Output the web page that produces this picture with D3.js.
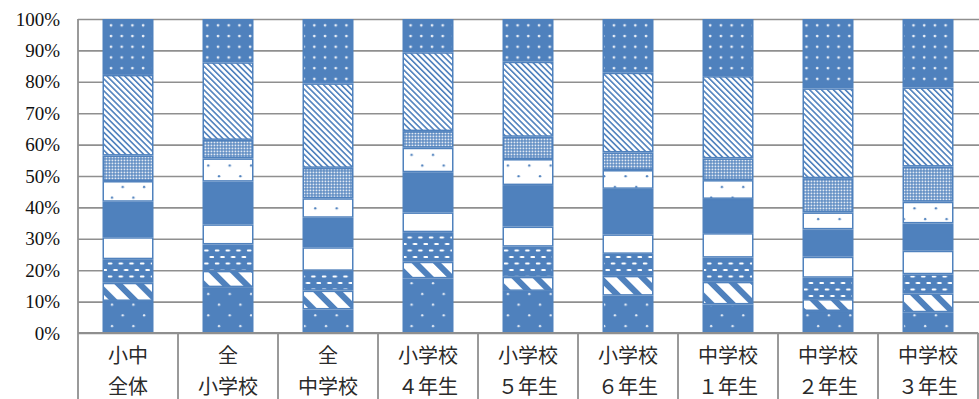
<!DOCTYPE html>
<html>
<head>
<meta charset="utf-8">
<script src="https://cdn.jsdelivr.net/npm/d3@7"></script>
<style>
  html, body { margin: 0; padding: 0; background: #fff; }
  svg { display: block; }
  .ylab text { font-family: "Liberation Serif", "DejaVu Serif", serif; }
</style>
</head>
<body>
<svg id="chart" width="979" height="399"></svg>
<script>
// Categories (two-line labels)
const categories = ["小中全体", "全小学校", "全中学校", "小学校４年生", "小学校５年生", "小学校６年生", "中学校１年生", "中学校２年生", "中学校３年生"];
const categoryLines = [
  ["小中", "全体"], ["全", "小学校"], ["全", "中学校"],
  ["小学校", "４年生"], ["小学校", "５年生"], ["小学校", "６年生"],
  ["中学校", "１年生"], ["中学校", "２年生"], ["中学校", "３年生"]
];
const yTicks = [0, 0.1, 0.2, 0.3, 0.4, 0.5, 0.6, 0.7, 0.8, 0.9, 1.0];

// Stacked shares (%), bottom segment first
const s1 = [10.2, 14.6, 7.5, 17.4, 13.4, 11.9, 9.1, 7.0, 6.6];
const s2 = [5.8, 5.2, 6.0, 5.3, 4.5, 6.3, 7.2, 3.8, 6.0];
const s3 = [7.5, 8.4, 6.3, 9.4, 9.6, 7.0, 7.7, 6.8, 6.1];
const s4 = [7.0, 6.4, 7.5, 6.3, 6.4, 6.2, 7.8, 6.7, 7.5];
const s5 = [11.3, 13.6, 9.4, 12.8, 13.2, 14.5, 10.9, 8.7, 8.7];
const s6 = [6.6, 7.4, 6.2, 7.8, 8.3, 6.0, 6.0, 5.4, 6.9];
const s7 = [8.1, 5.9, 9.7, 5.3, 7.1, 5.6, 6.9, 10.9, 11.2];
const s8 = [25.7, 24.7, 26.9, 25.1, 23.9, 25.4, 26.2, 28.6, 25.2];
const s9 = [17.8, 13.8, 20.5, 10.6, 13.6, 17.1, 18.2, 22.1, 21.8];

(function () {
  const seriesList = [s1, s2, s3, s4, s5, s6, s7, s8, s9];
  const keys = seriesList.map((_, i) => "s" + (i + 1));
  const rows = categories.map((c, j) => {
    const r = { cat: c };
    seriesList.forEach((s, i) => { r[keys[i]] = s[j]; });
    return r;
  });

  const BLUE = "#4F81BD";
  const GRID = "#8f8f8f";

  const svg = d3.select("#chart");
  const plotLeft = 78, plotRight = 978, plotTop = 19, plotBottom = 333;

  const x = d3.scaleBand().domain(categories).range([plotLeft, plotRight])
    .paddingInner(0.49).paddingOuter(0.245);
  const y = d3.scaleLinear().domain([0, 1]).range([plotBottom, plotTop]);

  // ---- fill patterns ----
  const defs = svg.append("defs");
  function pat(id, w, h, transform) {
    const p = defs.append("pattern").attr("id", id)
      .attr("patternUnits", "userSpaceOnUse").attr("width", w).attr("height", h);
    if (transform) p.attr("patternTransform", transform);
    return p;
  }
  // sparse white dots on blue
  let p = pat("dotsSparseBlue", 21.4, 21.4);
  p.append("rect").attr("width", 21.4).attr("height", 21.4).attr("fill", BLUE);
  p.append("circle").attr("cx", 5).attr("cy", 5).attr("r", 1.2).attr("fill", "#e8eef7");
  p.append("circle").attr("cx", 15.7).attr("cy", 15.7).attr("r", 1.2).attr("fill", "#e8eef7");
  // wide downward diagonal
  p = pat("wideDiag", 15, 15, "rotate(-45)");
  p.append("rect").attr("width", 15).attr("height", 15).attr("fill", "#fff");
  p.append("rect").attr("width", 6).attr("height", 15).attr("fill", BLUE);
  // dashed horizontal
  p = pat("dashH", 10.7, 13);
  p.append("rect").attr("width", 10.7).attr("height", 13).attr("fill", BLUE);
  [[0.8, 2.5], [6.15, 9], [-4.55, 9]].forEach(([dx, dy]) => {
    p.append("rect").attr("x", dx).attr("y", dy).attr("width", 4.6).attr("height", 2)
      .attr("rx", 1).attr("fill", "#fff");
  });
  // sparse blue dots on white
  p = pat("dotsSparseWhite", 21.4, 21.4);
  p.append("rect").attr("width", 21.4).attr("height", 21.4).attr("fill", "#fff");
  p.append("circle").attr("cx", 5).attr("cy", 5).attr("r", 1.2).attr("fill", BLUE);
  p.append("circle").attr("cx", 15.7).attr("cy", 15.7).attr("r", 1.2).attr("fill", BLUE);
  // fine check
  p = pat("fineCheck", 3, 3);
  p.append("rect").attr("width", 3).attr("height", 3).attr("fill", BLUE);
  p.append("rect").attr("x", 0.5).attr("y", 0.5).attr("width", 1.9).attr("height", 1.9).attr("fill", "#e4ebf4");
  // light downward diagonal
  p = pat("lightDiag", 4.2, 4.2, "rotate(-45)");
  p.append("rect").attr("width", 4.2).attr("height", 4.2).attr("fill", "#fff");
  p.append("rect").attr("width", 1.6).attr("height", 4.2).attr("fill", BLUE);
  // dense white dots on blue
  p = pat("dotsDense", 10.7, 10.7);
  p.append("rect").attr("width", 10.7).attr("height", 10.7).attr("fill", BLUE);
  p.append("circle").attr("cx", 4).attr("cy", 4).attr("r", 1.4).attr("fill", "#e8eef7");

  const fills = ["url(#dotsSparseBlue)", "url(#wideDiag)", "url(#dashH)", "#fff", BLUE,
    "url(#dotsSparseWhite)", "url(#fineCheck)", "url(#lightDiag)", "url(#dotsDense)"];

  // ---- gridlines ----
  svg.append("g")
    .attr("transform", `translate(${plotLeft},0)`)
    .call(d3.axisLeft(y).tickValues(yTicks).tickSize(-(979 - plotLeft)).tickFormat(""))
    .call(g => g.select(".domain").remove())
    .call(g => g.selectAll(".tick line").attr("stroke", GRID).attr("stroke-width", 1.6));

  // ---- y labels ----
  svg.append("g")
    .attr("class", "ylab")
    .attr("transform", `translate(${plotLeft},0)`)
    .call(d3.axisLeft(y).tickValues(yTicks).tickSize(0).tickPadding(18).tickFormat(d3.format(".0%")))
    .attr("font-family", null)
    .call(g => g.select(".domain").remove())
    .call(g => g.selectAll("text")
      .attr("font-size", 19).attr("fill", "#111"));

  // ---- stacked bars ----
  const stack = d3.stack().keys(keys).offset(d3.stackOffsetExpand);
  const layers = stack(rows);

  svg.append("g").selectAll("g")
    .data(layers)
    .join("g")
    .attr("fill", (d, i) => fills[i])
    .selectAll("rect")
    .data(d => d)
    .join("rect")
    .attr("x", d => x(d.data.cat) + 0.75)
    .attr("width", x.bandwidth() - 1.5)
    .attr("y", d => y(d[1]) + 0.75)
    .attr("height", d => Math.max(0, y(d[0]) - y(d[1]) - 1.5))
    .attr("stroke", BLUE)
    .attr("stroke-width", 1.5);

  // ---- x axis ----
  svg.append("g")
    .attr("transform", `translate(0,${plotBottom})`)
    .call(d3.axisBottom(x).tickSize(0).tickFormat(""))
    .call(g => g.select(".domain").attr("d", `M${plotLeft},0H${plotRight}`)
      .attr("stroke", GRID).attr("stroke-width", 1.8));

  // category separators running down through the label area
  const half = (x.step() - x.bandwidth()) / 2;
  const bounds = categories.map(c => x(c) - half);
  bounds.push(plotRight);
  svg.append("g").selectAll("line")
    .data(bounds)
    .join("line")
    .attr("x1", d => d).attr("x2", d => d)
    .attr("y1", (d, i) => i === 0 ? plotTop : plotBottom)
    .attr("y2", 399)
    .attr("stroke", GRID).attr("stroke-width", 1.8);

  // two-line category labels
  const labels = svg.append("g")
    .attr("font-family", "'Noto Sans CJK JP', sans-serif")
    .attr("font-size", 20).attr("fill", "#2a2a2a").attr("text-anchor", "middle");
  categoryLines.forEach((lines, j) => {
    const cx = x(categories[j]) + x.bandwidth() / 2;
    lines.forEach((t, k) => {
      labels.append("text")
        .attr("x", cx).attr("y", 354 + k * 31)
        .attr("dominant-baseline", "central")
        .text(t);
    });
  });
})();
</script>
</body>
</html>
